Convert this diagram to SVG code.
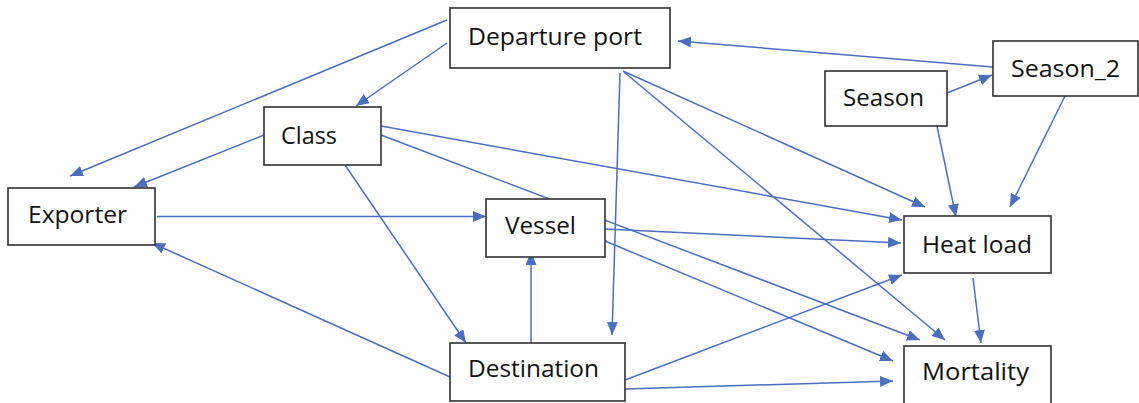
<svg xmlns="http://www.w3.org/2000/svg" width="1139" height="403" viewBox="0 0 1139 403">
<style>
.box{fill:#fff;stroke:#303030;stroke-width:1.6}
.lbl{font-family:"Open Sans","Noto Sans","Liberation Sans",sans-serif;font-size:24px;fill:#111}
.edge{stroke:#4a6fbf;stroke-width:1.5;fill:none;marker-end:url(#ah)}
</style>
<defs>
<marker id="ah" markerUnits="userSpaceOnUse" markerWidth="14" markerHeight="12" refX="13" refY="5.5" orient="auto">
<path d="M0,0 L13,5.5 L0,11 z" fill="#4a6fbf"/>
</marker>
</defs>
<rect width="1139" height="403" fill="#fff"/>
<g id="connectors">
<line class="edge" x1="447" y1="20" x2="70" y2="176"/>
<line class="edge" x1="447" y1="43" x2="356" y2="106"/>
<line class="edge" x1="264" y1="135" x2="134" y2="187"/>
<line class="edge" x1="157" y1="216.5" x2="486" y2="216.5"/>
<line class="edge" x1="450" y1="377" x2="152" y2="243"/>
<line class="edge" x1="531" y1="343" x2="531" y2="252"/>
<line class="edge" x1="345" y1="165" x2="466" y2="343"/>
<line class="edge" x1="620" y1="73" x2="612" y2="335"/>
<line class="edge" x1="623" y1="71" x2="925" y2="207"/>
<line class="edge" x1="624" y1="72" x2="945" y2="340"/>
<line class="edge" x1="993" y1="67" x2="678" y2="41"/>
<line class="edge" x1="947" y1="93" x2="992" y2="75"/>
<line class="edge" x1="937" y1="126" x2="956" y2="217"/>
<line class="edge" x1="1065" y1="96" x2="1010" y2="207"/>
<line class="edge" x1="381" y1="126" x2="902" y2="220"/>
<line class="edge" x1="381" y1="135" x2="920" y2="340"/>
<line class="edge" x1="605" y1="229" x2="901" y2="243"/>
<line class="edge" x1="605" y1="241" x2="893" y2="361"/>
<line class="edge" x1="625" y1="380" x2="902" y2="275"/>
<line class="edge" x1="625" y1="389" x2="893" y2="381"/>
<line class="edge" x1="973" y1="278" x2="981" y2="343"/>
</g>
<g id="node-departure-port"><rect class="box" x="450" y="8" width="220" height="60"/><text class="lbl" x="468" y="45" textLength="174" lengthAdjust="spacingAndGlyphs">Departure port</text></g>
<g id="node-class"><rect class="box" x="264" y="107" width="117" height="58"/><text class="lbl" x="281" y="144" textLength="56" lengthAdjust="spacingAndGlyphs">Class</text></g>
<g id="node-exporter"><rect class="box" x="8" y="188" width="147" height="57"/><text class="lbl" x="28" y="223" textLength="99" lengthAdjust="spacingAndGlyphs">Exporter</text></g>
<g id="node-vessel"><rect class="box" x="486" y="199" width="119" height="58"/><text class="lbl" x="505" y="234" textLength="71" lengthAdjust="spacingAndGlyphs">Vessel</text></g>
<g id="node-destination"><rect class="box" x="450" y="343" width="175" height="58"/><text class="lbl" x="468" y="377" textLength="131" lengthAdjust="spacingAndGlyphs">Destination</text></g>
<g id="node-season"><rect class="box" x="825" y="71" width="122" height="55"/><text class="lbl" x="843" y="106" textLength="81" lengthAdjust="spacingAndGlyphs">Season</text></g>
<g id="node-season-2"><rect class="box" x="993" y="41" width="145" height="55"/><text class="lbl" x="1011" y="77" textLength="109" lengthAdjust="spacingAndGlyphs">Season_2</text></g>
<g id="node-heat-load"><rect class="box" x="904" y="216" width="147" height="57"/><text class="lbl" x="922" y="253" textLength="110" lengthAdjust="spacingAndGlyphs">Heat load</text></g>
<g id="node-mortality"><rect class="box" x="904" y="346" width="147" height="60"/><text class="lbl" x="922" y="380" textLength="107" lengthAdjust="spacingAndGlyphs">Mortality</text></g>
</svg>
